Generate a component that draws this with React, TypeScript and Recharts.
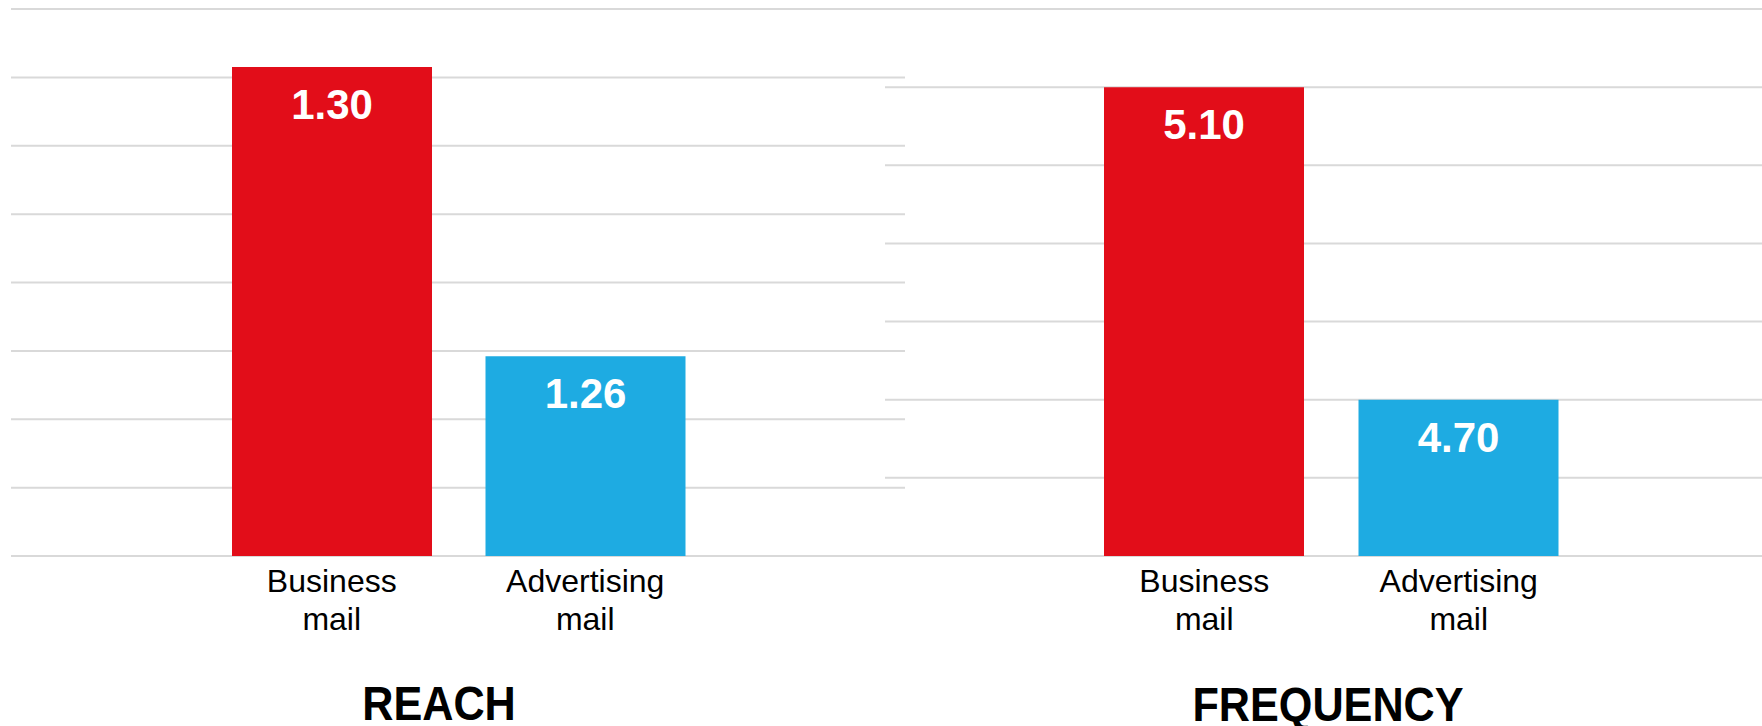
import React from "react";
import { BarChart, Bar, XAxis, YAxis, CartesianGrid, Cell, LabelList } from "recharts";

// categories and values
const categories = ["Business mail", "Advertising mail"];
const reachValues = [1.3015, 1.2592];
const frequencyValues = [5.1, 4.7];
const reachTicks = [1.23, 1.24, 1.25, 1.26, 1.27, 1.28, 1.29, 1.3, 1.31];
const frequencyTicks = [4.5, 4.6, 4.7, 4.8, 4.9, 5.0, 5.1, 5.2];
const barColors = ["#E20D19", "#1EABE2"];
const titles = ["REACH", "FREQUENCY"];

const FONT = "'Liberation Sans', Arial, sans-serif";

const CategoryTick = (props: any) => {
  const { x, y, payload } = props;
  const words = String(payload.value).split(" ");
  return (
    <text x={x} y={y} textAnchor="middle" fontFamily={FONT} fontSize={32} fill="#000">
      <tspan x={x} dy={36}>{words[0]}</tspan>
      <tspan x={x} dy={38}>{words[1]}</tspan>
    </text>
  );
};

interface PanelProps {
  values: number[];
  ticks: number[];
  width: number;
  marginLeft: number;
  padLeft: number;
  padRight: number;
}

const Panel: React.FC<PanelProps> = ({ values, ticks, width, marginLeft, padLeft, padRight }) => {
  const data = categories.map((c, i) => ({ name: c, value: values[i] }));
  return (
    <BarChart
      width={width}
      height={726}
      data={data}
      margin={{ top: 9, right: 0, left: marginLeft, bottom: 70 }}
    >
      <CartesianGrid vertical={false} stroke="#d9d9d9" strokeWidth={2} />
      <XAxis
        dataKey="name"
        axisLine={false}
        tickLine={false}
        tickSize={0}
        tickMargin={0}
        height={100}
        padding={{ left: padLeft, right: padRight }}
        tick={<CategoryTick />}
        interval={0}
      />
      <YAxis hide domain={[ticks[0], ticks[ticks.length - 1]]} ticks={ticks} />
      <Bar dataKey="value" barSize={200} isAnimationActive={false}>
        {data.map((d, i) => (
          <Cell key={d.name} fill={barColors[i]} />
        ))}
        <LabelList
          dataKey="value"
          position="insideTop"
          offset={22}
          formatter={(v: any) => Number(v).toFixed(2)}
          fill="#fff"
          fontFamily={FONT}
          fontSize={42}
          fontWeight="bold"
        />
      </Bar>
    </BarChart>
  );
};

export default function App() {
  return (
    <div style={{ position: "absolute", left: 0, top: 0, width: 1762, height: 726, background: "#fff", overflow: "hidden" }}>
      <div style={{ position: "absolute", left: 0, top: 0 }}>
        <Panel values={reachValues} ticks={reachTicks} width={905} marginLeft={11} padLeft={194} padRight={193} />
      </div>
      <div style={{ position: "absolute", left: 885, top: 0 }}>
        <Panel values={frequencyValues} ticks={frequencyTicks} width={877} marginLeft={0} padLeft={192} padRight={176} />
      </div>
      {/* titles: bold, squeezed horizontally like the original */}
      <svg width={1762} height={726} style={{ position: "absolute", left: 0, top: 0, pointerEvents: "none" }}>
        <text transform="translate(439,720) scale(0.9,1)" textAnchor="middle" fontFamily={FONT} fontSize={48} fontWeight="bold" fill="#000">
          {titles[0]}
        </text>
        <text transform="translate(1328,721) scale(0.9,1)" textAnchor="middle" fontFamily={FONT} fontSize={48} fontWeight="bold" fill="#000">
          {titles[1]}
        </text>
      </svg>
    </div>
  );
}
